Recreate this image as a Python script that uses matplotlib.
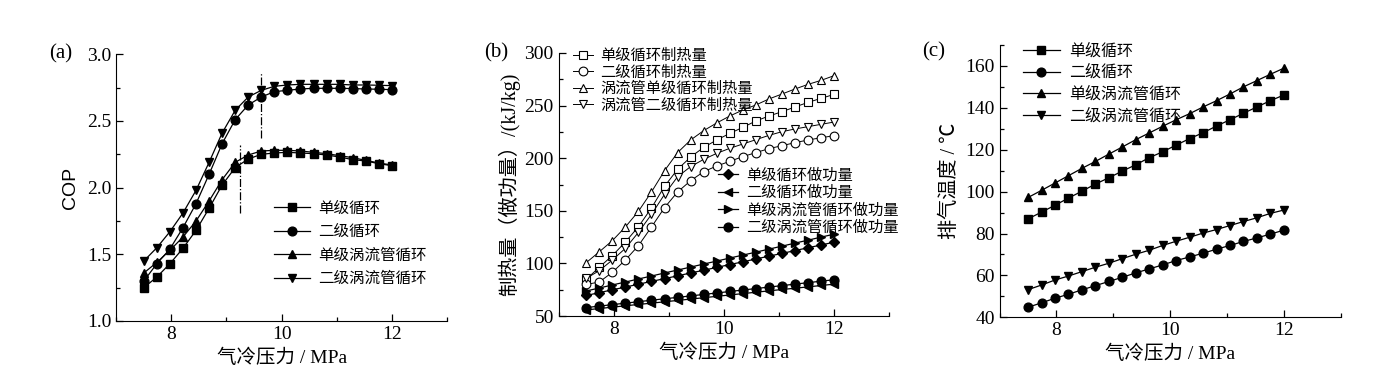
import numpy as np
import matplotlib
matplotlib.use('Agg')
import matplotlib.pyplot as plt
from matplotlib.ticker import MultipleLocator

plt.rcParams['font.family'] = ['Liberation Serif', 'Noto Sans CJK SC', 'DejaVu Sans']
plt.rcParams['axes.unicode_minus'] = False

# gas cooler pressure, MPa
pressure = np.linspace(7.5, 12, 20)

# (a) COP
cop_single = [1.25, 1.33, 1.43, 1.545, 1.68, 1.845, 2.02, 2.15, 2.215, 2.25,
              2.26, 2.265, 2.26, 2.255, 2.245, 2.23, 2.21, 2.20, 2.18, 2.165]
cop_two = [1.30, 1.43, 1.54, 1.70, 1.88, 2.10, 2.33, 2.51, 2.62, 2.68,
           2.72, 2.73, 2.74, 2.745, 2.745, 2.745, 2.743, 2.74, 2.738, 2.735]
cop_single_vt = [1.36, 1.44, 1.53, 1.63, 1.75, 1.90, 2.06, 2.19, 2.245, 2.275,
                 2.28, 2.28, 2.275, 2.265, 2.255, 2.24, 2.225, 2.205, 2.185, 2.17]
cop_two_vt = [1.45, 1.55, 1.67, 1.81, 1.98, 2.19, 2.41, 2.58, 2.68, 2.73,
              2.76, 2.77, 2.775, 2.775, 2.775, 2.775, 2.77, 2.77, 2.768, 2.765]
opt_x = [9.62, 9.24]
opt_y = [(2.37, 2.87), (1.81, 2.32)]

# (b) heating capacity and work, kJ/kg
q_single = [84.9, 96.3, 107.4, 120.3, 134.9, 152.7, 173.3, 189.4, 201.1, 210.3,
            217.3, 223.6, 229.3, 235.4, 240.1, 244.2, 248.7, 253.1, 256.9, 260.7]
q_two = [80.0, 82.3, 91.5, 103.2, 116.9, 134.6, 153.0, 167.9, 178.6, 187.2,
         192.6, 197.0, 201.5, 205.3, 209.1, 211.9, 214.8, 217.3, 219.5, 221.4]
q_single_vt = [100.7, 111.0, 121.6, 134.6, 149.5, 167.9, 188.1, 205.3, 217.3, 226.2,
               233.5, 240.1, 245.8, 250.6, 256.3, 261.0, 265.8, 270.2, 274.0, 278.5]
q_two_vt = [85.8, 93.1, 103.2, 114.3, 129.5, 146.6, 165.6, 182.4, 192.0, 198.9,
            204.6, 209.4, 213.5, 217.6, 221.7, 225.2, 227.8, 230.0, 232.2, 234.4]
w_single = [69.5, 72.2, 74.9, 77.5, 80.2, 82.9, 85.5, 88.2, 90.9, 93.5,
            96.2, 98.9, 101.5, 104.2, 106.9, 109.5, 112.2, 114.9, 117.5, 120.2]
w_two = [55.8, 57.1, 58.4, 59.7, 61.0, 62.2, 63.5, 64.8, 66.1, 67.4,
         68.7, 70.0, 71.3, 72.6, 73.9, 75.2, 76.4, 77.7, 79.0, 80.3]
w_single_vt = [73.8, 76.6, 79.5, 82.3, 85.2, 88.0, 90.9, 93.7, 96.5, 99.4,
               102.2, 105.1, 107.9, 110.7, 113.6, 116.4, 119.3, 122.1, 125.0, 127.8]
w_two_vt = [58.0, 59.4, 60.8, 62.2, 63.6, 65.0, 66.4, 67.7, 69.1, 70.5,
            71.9, 73.3, 74.7, 76.1, 77.5, 78.9, 80.3, 81.7, 83.1, 84.5]

# (c) discharge temperature, C
t_single = [87.0, 90.2, 93.5, 96.9, 100.2, 103.6, 106.6, 109.8, 112.8, 116.2,
            119.0, 122.2, 125.3, 128.1, 131.3, 134.3, 137.4, 140.4, 143.4, 146.1]
t_two = [44.8, 46.9, 49.1, 51.0, 53.1, 55.1, 57.1, 59.1, 61.2, 63.1,
         65.0, 67.1, 68.8, 70.6, 72.5, 74.3, 76.2, 77.9, 79.7, 81.6]
t_single_vt = [97.2, 100.6, 104.1, 107.6, 111.1, 114.4, 117.9, 121.3, 124.8, 128.0,
               131.2, 134.3, 137.2, 140.4, 143.4, 146.6, 150.0, 153.0, 156.0, 158.9]
t_two_vt = [53.2, 55.4, 57.8, 59.7, 61.8, 63.9, 65.8, 68.0, 70.1, 72.0,
            74.3, 76.3, 78.2, 80.2, 81.9, 83.8, 85.7, 87.5, 89.6, 91.2]

names4 = ['单级循环', '二级循环', '单级涡流管循环', '二级涡流管循环']
names_q = ['单级循环制热量', '二级循环制热量', '涡流管单级循环制热量', '涡流管二级循环制热量']
names_w = ['单级循环做功量', '二级循环做功量', '单级涡流管循环做功量', '二级涡流管循环做功量']

fig = plt.figure(figsize=(13.76, 3.78), dpi=100)
ax_a = fig.add_axes([0.0845, 0.1508, 0.2403, 0.7055])
ax_b = fig.add_axes([0.4060, 0.1640, 0.2403, 0.6958])
ax_c = fig.add_axes([0.7265, 0.1606, 0.2478, 0.7204])

lw = 0.9
ms = 6.3


def style(ax, ymin, ymax, ymaj, ymin_step):
    ax.set_xlim(7, 13)
    ax.set_ylim(ymin, ymax)
    ax.xaxis.set_major_locator(MultipleLocator(2))
    ax.xaxis.set_minor_locator(MultipleLocator(1))
    ax.yaxis.set_major_locator(MultipleLocator(ymaj))
    ax.yaxis.set_minor_locator(MultipleLocator(ymin_step))
    ax.spines['top'].set_visible(False)
    ax.spines['right'].set_visible(False)
    ax.tick_params(which='major', direction='in', length=5, width=0.9, labelsize=14)
    ax.tick_params(which='minor', direction='in', length=3, width=0.9)
    ax.set_xlabel('气冷压力 / MPa', fontsize=14, labelpad=4)


# panel (a)
for y, m, lab in zip([cop_single, cop_two, cop_single_vt, cop_two_vt],
                     ['s', 'o', '^', 'v'], names4):
    ax_a.plot(pressure, y, color='black', lw=lw, marker=m, ms=ms, label=lab)
for xv, (y0, y1) in zip(opt_x, opt_y):
    ax_a.plot([xv, xv], [y0, y1], color='black', lw=0.9, ls='-.')
style(ax_a, 1.0, 3.0, 0.5, 0.25)
ax_a.yaxis.set_major_formatter(matplotlib.ticker.FormatStrFormatter('%.1f'))
ax_a.set_ylabel('COP', family='Liberation Sans', fontsize=14, labelpad=6)
ax_a.legend(loc='upper left', bbox_to_anchor=(0.455, 0.48), frameon=False,
            fontsize=11.2, handlelength=2.3, labelspacing=0.48, borderpad=0,
            handletextpad=0.5)
fig.text(0.036, 0.857, '(a)', fontsize=15, va='center')

# panel (b)
for y, m, lab in zip([q_single, q_two, q_single_vt, q_two_vt],
                     ['s', 'o', '^', 'v'], names_q):
    ax_b.plot(pressure, y, color='black', lw=0.7, marker=m, ms=ms,
              mfc='white', mec='black', mew=0.8, label=lab)
for y, m, lab in zip([w_single, w_two, w_single_vt, w_two_vt],
                     ['D', '<', '>', 'o'], names_w):
    ax_b.plot(pressure, y, color='black', lw=lw, marker=m,
              ms=ms if m != 'D' else 5.3, label=lab)
style(ax_b, 50, 300, 50, 25)
ax_b.set_ylabel('制热量（做功量）/(kJ/kg)', fontsize=14.5, labelpad=3)
h, l = ax_b.get_legend_handles_labels()
leg1 = ax_b.legend(h[:4], l[:4], loc='upper left', bbox_to_anchor=(0.02, 1.045),
                   frameon=False, fontsize=11, handlelength=1.3, labelspacing=0.15,
                   borderpad=0, handletextpad=0.5)
ax_b.add_artist(leg1)
ax_b.legend(h[4:], l[4:], loc='upper left', bbox_to_anchor=(0.46, 0.59),
            frameon=False, fontsize=11, handlelength=1.3, labelspacing=0.2,
            borderpad=0, handletextpad=0.5)
fig.text(0.352, 0.86, '(b)', fontsize=15, va='center')

# panel (c)
for y, m, lab in zip([t_single, t_two, t_single_vt, t_two_vt],
                     ['s', 'o', '^', 'v'], names4):
    ax_c.plot(pressure, y, color='black', lw=lw, marker=m, ms=ms, label=lab)
style(ax_c, 40, 170, 20, 10)
ax_c.set_ylabel('排气温度 / ℃', fontsize=14.5, labelpad=4)
ax_c.legend(loc='upper left', bbox_to_anchor=(0.045, 1.035), frameon=False,
            fontsize=11.5, handlelength=2.3, labelspacing=0.36, borderpad=0,
            handletextpad=0.6)
fig.text(0.670, 0.862, '(c)', fontsize=15, va='center')

fig.savefig('out.png', dpi=100)
